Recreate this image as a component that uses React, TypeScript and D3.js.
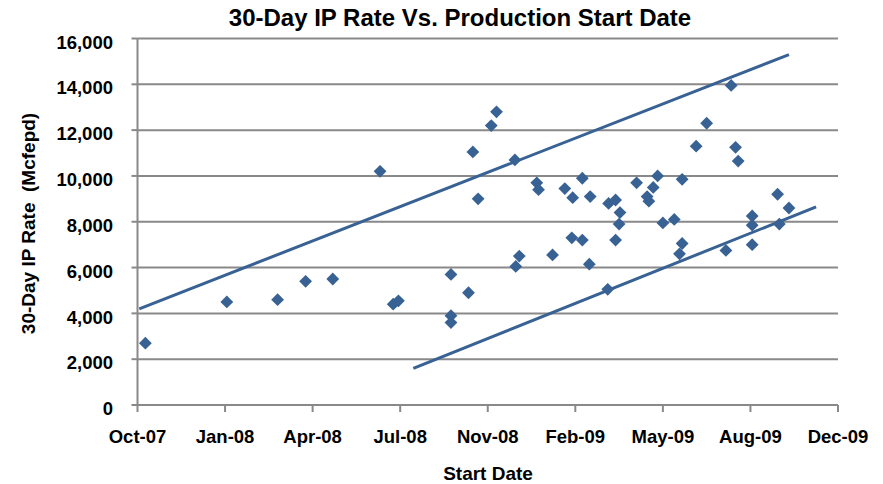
import React from "react";
import * as d3 from "d3";

const startDates: string[] = [
  "2007-10-10", "2008-01-11", "2008-03-09", "2008-04-10", "2008-05-11", "2008-07-04",
  "2008-07-19", "2008-07-25", "2008-09-23", "2008-09-23", "2008-09-23", "2008-10-13",
  "2008-10-18", "2008-10-24", "2008-11-08", "2008-11-14", "2008-12-05", "2008-12-06",
  "2008-12-10", "2008-12-30", "2009-01-01", "2009-01-17", "2009-01-31", "2009-02-08",
  "2009-02-09", "2009-02-20", "2009-02-20", "2009-02-28", "2009-03-01", "2009-03-21",
  "2009-03-22", "2009-03-30", "2009-03-30", "2009-04-04", "2009-04-03", "2009-04-23",
  "2009-05-05", "2009-05-07", "2009-05-12", "2009-05-17", "2009-05-23", "2009-06-05",
  "2009-06-11", "2009-06-14", "2009-06-14", "2009-06-30", "2009-07-12", "2009-08-03",
  "2009-08-09", "2009-08-14", "2009-08-17", "2009-09-02", "2009-09-02", "2009-09-02",
  "2009-10-01", "2009-10-03", "2009-10-14",
];
const ipRates: number[] = [
  2700, 4500, 4600, 5400, 5500, 10200,
  4400, 4550, 5700, 3900, 3600, 4900,
  11050, 9000, 12200, 12800, 10700, 6050,
  6500, 9700, 9400, 6550, 9450, 7300,
  9050, 9900, 7200, 6150, 9100, 5050,
  8800, 8950, 7200, 8400, 7900, 9700,
  9100, 8900, 9500, 10000, 7950, 8100,
  6600, 9850, 7050, 11300, 12300, 6750,
  13950, 11250, 10650, 8250, 7850, 7000,
  9200, 7900, 8600,
];

const upperLineDates: string[] = ["2007-10-03", "2009-10-14"];
const upperLineValues: number[] = [4200, 15300];
const lowerLineDates: string[] = ["2008-08-11", "2009-11-14"];
const lowerLineValues: number[] = [1600, 8650];

const yTicks: number[] = [0, 2000, 4000, 6000, 8000, 10000, 12000, 14000, 16000];
const axisStart = "2007-10-01";
const tickStepDays = 100;
const tickCount = 9;

const title = "30-Day IP Rate Vs. Production Start Date";
const xTitle = "Start Date";
const yTitle = "30-Day IP Rate  (Mcfepd)";

const W = 883;
const H = 484;
const M = { left: 137.5, right: 838, top: 38.5, bottom: 405 };
const BLUE = "#386294";
const GRID = "#898989";
const FONT = "'Liberation Sans', Arial, sans-serif";

export default function App() {
  const parse = d3.timeParse("%Y-%m-%d");
  const start = parse(axisStart) as Date;
  const xTickDates = d3.range(tickCount).map((i) => d3.timeDay.offset(start, i * tickStepDays));
  const x = d3
    .scaleTime()
    .domain([xTickDates[0], xTickDates[xTickDates.length - 1]])
    .range([M.left, M.right]);
  const y = d3.scaleLinear().domain([0, 16000]).range([M.bottom, M.top]);
  const fmtX = d3.timeFormat("%b-%y");
  const fmtY = d3.format(",");

  const points = startDates.map((d, i) => ({ date: parse(d) as Date, v: ipRates[i] }));
  const line = d3
    .line<{ date: Date; v: number }>()
    .x((d) => x(d.date))
    .y((d) => y(d.v));
  const upper = upperLineDates.map((d, i) => ({ date: parse(d) as Date, v: upperLineValues[i] }));
  const lower = lowerLineDates.map((d, i) => ({ date: parse(d) as Date, v: lowerLineValues[i] }));
  const r = 6.4;
  const diamond = `M0,${-r}L${r},0L0,${r}L${-r},0Z`;

  return (
    <svg
      width={W}
      height={H}
      style={{ position: "absolute", left: 0, top: 0, display: "block", background: "#fff" }}
      fontFamily={FONT}
    >
      <rect x={0} y={0} width={W} height={H} fill="#fff" />
      {yTicks.slice(1).map((t) => (
        <line key={"g" + t} x1={M.left} x2={M.right} y1={y(t)} y2={y(t)} stroke={GRID} strokeWidth={2} />
      ))}
      <line x1={M.left} x2={M.left} y1={y(16000)} y2={M.bottom} stroke={GRID} strokeWidth={2} />
      {yTicks.map((t) => (
        <g key={"yt" + t}>
          <line x1={M.left - 6} x2={M.left} y1={y(t)} y2={y(t)} stroke={GRID} strokeWidth={2} />
          <text x={113} y={y(t)} dy="0.55em" textAnchor="end" fontSize={18.5} fontWeight="bold" fill="#000">
            {fmtY(t)}
          </text>
        </g>
      ))}
      <line x1={M.left} x2={M.right} y1={M.bottom} y2={M.bottom} stroke={GRID} strokeWidth={2} />
      {xTickDates.map((d, i) => (
        <g key={"xt" + i}>
          <line x1={x(d)} x2={x(d)} y1={M.bottom} y2={M.bottom + 7} stroke={GRID} strokeWidth={2} />
          <text x={x(d)} y={443} textAnchor="middle" fontSize={18.5} fontWeight="bold" fill="#000">
            {fmtX(d)}
          </text>
        </g>
      ))}
      <path d={line(upper) || ""} fill="none" stroke={BLUE} strokeWidth={3} />
      <path d={line(lower) || ""} fill="none" stroke={BLUE} strokeWidth={3} />
      {points.map((p, i) => (
        <path key={"p" + i} d={diamond} transform={`translate(${x(p.date)},${y(p.v)})`} fill={BLUE} />
      ))}
      <text x={460} y={26} textAnchor="middle" fontSize={24} fontWeight="bold" fill="#000">
        {title}
      </text>
      <text x={488} y={480} textAnchor="middle" fontSize={19} fontWeight="bold" fill="#000">
        {xTitle}
      </text>
      <text
        transform={`translate(35,223.5) rotate(-90)`}
        textAnchor="middle"
        fontSize={19}
        fontWeight="bold"
        fill="#000"
        style={{ whiteSpace: "pre" }}
      >
        {yTitle}
      </text>
    </svg>
  );
}
